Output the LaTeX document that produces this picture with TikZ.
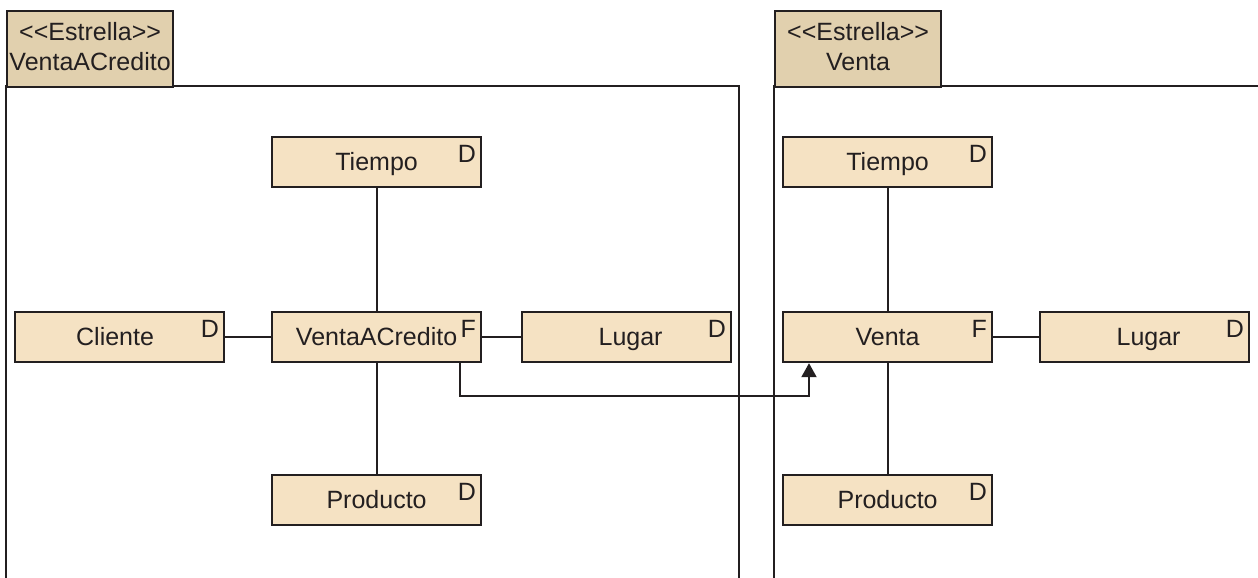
\documentclass[tikz,border=0pt]{standalone}
\usepackage{fontspec}
\setmainfont{Liberation Sans}
\usetikzlibrary{arrows.meta}
\definecolor{tabfill}{HTML}{E1D0AE}
\definecolor{boxfill}{HTML}{F5E2C3}
\definecolor{ink}{HTML}{231F20}
\newcommand{\stereo}[1]{<\kern0pt<#1>\kern0pt>}
\tikzset{
  every picture/.style={x=1pt,y=-1pt},
  dimbox/.style={draw=ink, fill=boxfill, line width=2.2pt, rectangle, minimum width=209pt, minimum height=50pt, inner sep=0pt, anchor=north west, font=\fontsize{25}{28}\selectfont, text=ink, text height=18pt, text depth=2pt},
  tabbox/.style={draw=ink, fill=tabfill, line width=2.2pt, rectangle, minimum width=166pt, minimum height=76pt, inner sep=0pt, anchor=north west, align=center, font=\fontsize{25}{30}\selectfont, text=ink, text depth=5pt},
  tag/.style={anchor=north east, inner sep=0pt, font=\fontsize{25}{28}\selectfont, text=ink},
  frame/.style={draw=ink, line width=2pt},
  conn/.style={draw=ink, line width=2pt},
}
\begin{document}
\begin{tikzpicture}
\useasboundingbox (0,0) rectangle (1258,578);
% frames
\draw[frame] (6,578) -- (6,86) -- (739,86) -- (739,578);
\draw[frame] (774,578) -- (774,86) -- (1258,86);
% tabs
\node[tabbox] (tabL) at (6,10) {\stereo{Estrella}\\VentaACredito};
\node[tabbox] (tabR) at (774,10) {\stereo{Estrella}\\Venta};
% left star
\node[dimbox] (tiempoL) at (271,136) {Tiempo};
\node[dimbox] (cliente) at (14,311) {\hspace*{-9pt}Cliente};
\node[dimbox] (vac) at (271,311) {VentaACredito};
\node[dimbox] (lugarL) at (521,311) {\hspace*{8pt}Lugar};
\node[dimbox] (productoL) at (271,474) {Producto};
% right star
\node[dimbox] (tiempoR) at (782,136) {Tiempo};
\node[dimbox] (venta) at (782,311) {Venta};
\node[dimbox] (lugarR) at (1039,311) {\hspace*{8pt}Lugar};
\node[dimbox] (productoR) at (782,474) {Producto};
% tags
\foreach \n/\t in {tiempoL/D,cliente/D,vac/F,lugarL/D,productoL/D,tiempoR/D,venta/F,lugarR/D,productoR/D}{
  \node[tag] at ([xshift=-6pt,yshift=-9pt]\n.north east) {\t};
}
% connectors
\draw[conn] (tiempoL.south) -- (vac.north);
\draw[conn] (cliente.east) -- (vac.west);
\draw[conn] (vac.east) -- (lugarL.west);
\draw[conn] (vac.south) -- (productoL.north);
\draw[conn] (tiempoR.south) -- (venta.north);
\draw[conn] (venta.east) -- (lugarR.west);
\draw[conn] (venta.south) -- (productoR.north);
\coordinate (a1) at (460,361);
\coordinate (a2) at (809,361);
\draw[conn, -{Triangle[width=15pt,length=14pt]}] (vac.south -| a1) -- ++(0,33) -| (venta.south -| a2);
\end{tikzpicture}
\end{document}
